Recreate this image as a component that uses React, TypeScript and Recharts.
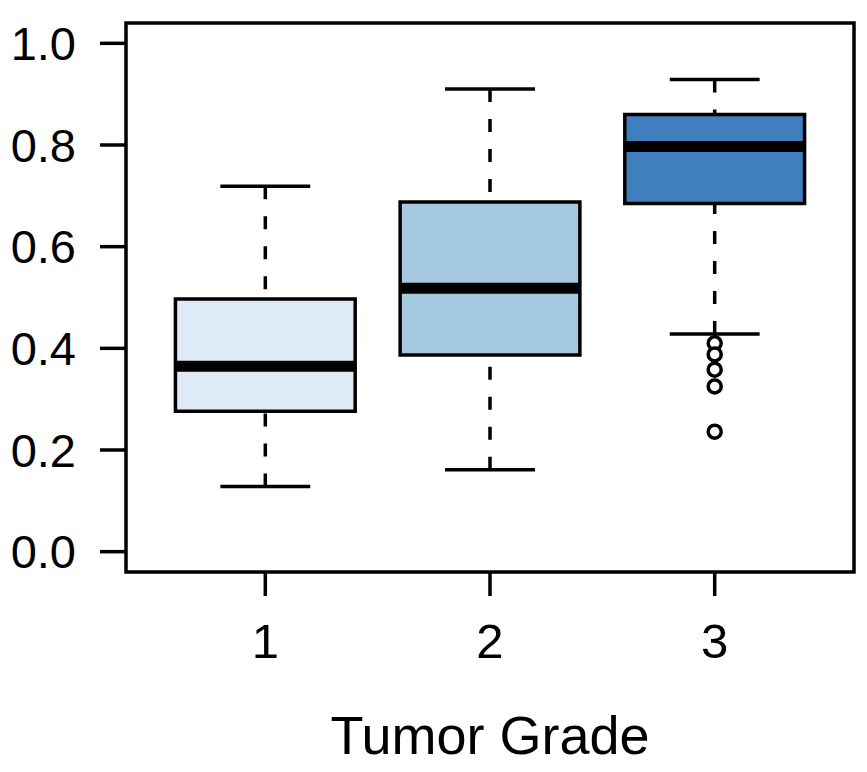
import { ComposedChart, XAxis, YAxis, Scatter, ReferenceArea, ReferenceLine, Label } from 'recharts';

// boxplot stats per tumor grade
const grades = [1, 2, 3];
const lowerWhisker = [0.128, 0.161, 0.428];
const q1 = [0.276, 0.387, 0.685];
const median = [0.365, 0.518, 0.797];
const q3 = [0.497, 0.688, 0.86];
const upperWhisker = [0.719, 0.91, 0.929];
const outliersGrade3 = [0.41, 0.388, 0.358, 0.325, 0.236];
const yTicks = [0, 0.2, 0.4, 0.6, 0.8, 1.0];

const boxFill = ['#deebf7', '#a4c9e1', '#3f7fbd'];
const X_DOMAIN: [number, number] = [0.38, 3.62];
const Y_DOMAIN: [number, number] = [-0.04, 1.04];
const BOX_HALF = 0.4;
const CAP_HALF = 0.2;
const LW = 3.5;
const FONT = '"Liberation Sans", Arial, Helvetica, sans-serif';

const outlierData = outliersGrade3.map((y) => ({ x: 3, y }));

const OutlierDot = (props: any) => (
  <circle cx={props.cx} cy={props.cy} r={6.5} fill="#fff" stroke="#000" strokeWidth={LW} />
);

export default function App() {
  return (
    <div style={{ position: 'absolute', left: 0, top: 0, fontFamily: FONT }}>
      <ComposedChart width={867} height={772} margin={{ top: 23, right: 13, bottom: 0, left: 0 }}>
        <XAxis
          type="number"
          dataKey="x"
          domain={X_DOMAIN}
          ticks={grades}
          interval={0}
          allowDataOverflow
          axisLine={false}
          tickSize={24}
          tickMargin={27}
          tickLine={{ stroke: '#000', strokeWidth: LW }}
          tick={{ fill: '#000', fontSize: 49, fontFamily: FONT }}
          height={200}
        >
          <Label value="Tumor Grade" position="insideBottom" offset={18} fill="#000" fontSize={54} fontFamily={FONT} />
        </XAxis>
        <YAxis
          type="number"
          dataKey="y"
          domain={Y_DOMAIN}
          ticks={yTicks}
          interval={0}
          allowDataOverflow
          axisLine={false}
          tickSize={26}
          tickMargin={24}
          tickLine={{ stroke: '#000', strokeWidth: LW }}
          tickFormatter={(v: number) => v.toFixed(1)}
          tick={{ fill: '#000', fontSize: 47, fontFamily: FONT }}
          width={126}
        />

        {grades.map((g, i) => (
          <ReferenceLine
            key={`uw${g}`}
            segment={[{ x: g, y: upperWhisker[i] }, { x: g, y: q3[i] }]}
            stroke="#000"
            strokeWidth={LW}
            strokeDasharray="13 17"
          />
        ))}
        {grades.map((g, i) => (
          <ReferenceLine
            key={`lw${g}`}
            segment={[{ x: g, y: lowerWhisker[i] }, { x: g, y: q1[i] }]}
            stroke="#000"
            strokeWidth={LW}
            strokeDasharray="13 17"
          />
        ))}
        {grades.map((g, i) => (
          <ReferenceLine
            key={`uc${g}`}
            segment={[{ x: g - CAP_HALF, y: upperWhisker[i] }, { x: g + CAP_HALF, y: upperWhisker[i] }]}
            stroke="#000"
            strokeWidth={LW}
          />
        ))}
        {grades.map((g, i) => (
          <ReferenceLine
            key={`lc${g}`}
            segment={[{ x: g - CAP_HALF, y: lowerWhisker[i] }, { x: g + CAP_HALF, y: lowerWhisker[i] }]}
            stroke="#000"
            strokeWidth={LW}
          />
        ))}
        {grades.map((g, i) => (
          <ReferenceArea
            key={`box${g}`}
            x1={g - BOX_HALF}
            x2={g + BOX_HALF}
            y1={q1[i]}
            y2={q3[i]}
            fill={boxFill[i]}
            fillOpacity={1}
            stroke="#000"
            strokeWidth={LW}
          />
        ))}
        {grades.map((g, i) => (
          <ReferenceLine
            key={`med${g}`}
            segment={[{ x: g - BOX_HALF, y: median[i] }, { x: g + BOX_HALF, y: median[i] }]}
            stroke="#000"
            strokeWidth={11}
          />
        ))}

        {/* plot frame */}
        <ReferenceArea
          x1={X_DOMAIN[0]}
          x2={X_DOMAIN[1]}
          y1={Y_DOMAIN[0]}
          y2={Y_DOMAIN[1]}
          fill="none"
          stroke="#000"
          strokeWidth={LW}
          ifOverflow="visible"
        />

        <Scatter data={outlierData} dataKey="y" shape={OutlierDot} isAnimationActive={false} />
      </ComposedChart>
    </div>
  );
}
